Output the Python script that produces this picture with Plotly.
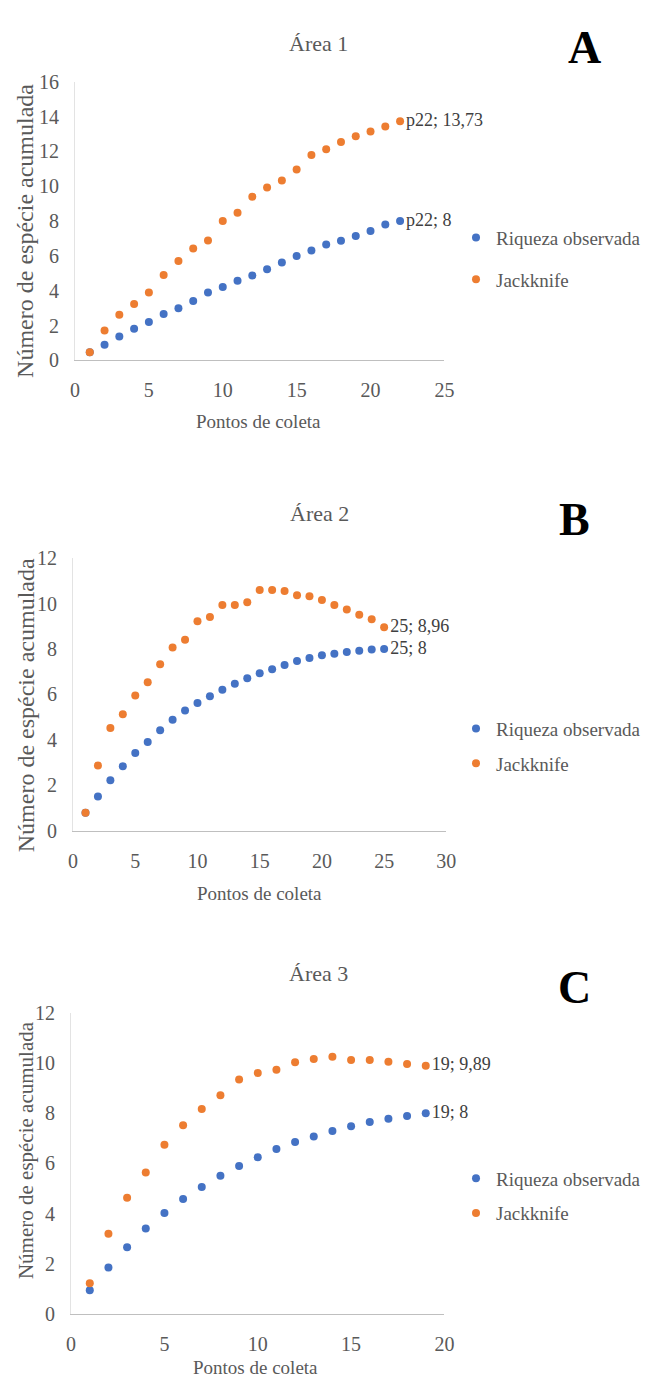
import plotly.graph_objects as go

# ---------------- data ----------------
pontos_a = list(range(1, 23))
riqueza_a = [0.47, 0.90, 1.37, 1.82, 2.21, 2.66, 3.00, 3.41, 3.90, 4.21, 4.57,
             4.87, 5.24, 5.62, 5.99, 6.31, 6.65, 6.87, 7.15, 7.43, 7.81, 8.00]
jack_a = [0.47, 1.72, 2.62, 3.24, 3.90, 4.90, 5.71, 6.42, 6.89, 8.00, 8.48,
          9.40, 9.93, 10.34, 10.96, 11.80, 12.13, 12.55, 12.87, 13.15, 13.43, 13.73]
label_a = ["p22; 13,73", "p22; 8"]

pontos_b = list(range(1, 26))
riqueza_b = [0.79, 1.51, 2.23, 2.84, 3.42, 3.91, 4.43, 4.89, 5.29, 5.63, 5.92,
             6.21, 6.47, 6.72, 6.93, 7.11, 7.30, 7.47, 7.61, 7.73, 7.79, 7.87,
             7.93, 7.98, 8.00]
jack_b = [0.79, 2.87, 4.53, 5.13, 5.96, 6.54, 7.33, 8.07, 8.41, 9.22, 9.41,
          9.94, 9.94, 10.06, 10.60, 10.60, 10.56, 10.37, 10.32, 10.16, 9.94,
          9.74, 9.51, 9.31, 8.96]
label_b = ["25; 8,96", "25; 8"]

pontos_c = list(range(1, 20))
riqueza_c = [0.95, 1.85, 2.66, 3.41, 4.02, 4.58, 5.06, 5.51, 5.90, 6.25, 6.58,
             6.85, 7.07, 7.29, 7.48, 7.65, 7.78, 7.89, 8.00]
jack_c = [1.23, 3.20, 4.63, 5.64, 6.74, 7.52, 8.17, 8.72, 9.34, 9.60, 9.73,
          10.03, 10.16, 10.25, 10.12, 10.12, 10.05, 9.96, 9.89]
label_c = ["19; 9,89", "19; 8"]

titles = ["Área 1", "Área 2", "Área 3"]
letters = ["A", "B", "C"]
series_names = ["Riqueza observada", "Jackknife"]
x_title = "Pontos de coleta"
y_title = "Número de espécie acumulada"
x_ranges = [[0, 25], [0, 30], [0, 20]]
y_ranges = [[0, 16], [0, 12], [0, 12]]

# ---------------- style / layout ----------------
FW, FH = 646, 1388
FONT = "Liberation Serif, Times New Roman, serif"
BLUE = "#4472C4"
ORANGE = "#ED7D31"
TICKC = "#595959"


def px(xs):   # page x -> paper
    return xs / FW


def py(ys):   # page y -> paper
    return 1 - ys / FH


# pixel boxes of each plot area: (x_left, x_right, y_top, y_bottom)
panels_px = [(72, 452, 72, 355), (70, 454, 556, 833), (68, 452, 1018, 1324)]
title_pos = [(322, 33), (324, 511), (322, 978)]
letter_pos = [(596, 37), (586, 517), (586, 992)]
legend_top = [211, 710, 1167]
legend_gap = [14, 7, 7]
xtitle_pos = [(261, 417), (262, 897), (258, 1378)]
ytitle_pos = [(21, 223), (21, 705), (21, 1157)]
ytitle_size = [24, 24, 21]

fig = go.Figure()
datasets = [(pontos_a, riqueza_a, jack_a, label_a),
            (pontos_b, riqueza_b, jack_b, label_b),
            (pontos_c, riqueza_c, jack_c, label_c)]

annotations = []
layout_upd = {}
for i, (xs, rq, jk, lab) in enumerate(datasets):
    n = i + 1
    xa = "x" if n == 1 else f"x{n}"
    ya = "y" if n == 1 else f"y{n}"
    leg = "legend" if n == 1 else f"legend{n}"
    txt_r = [""] * (len(xs) - 1) + [lab[1]]
    txt_j = [""] * (len(xs) - 1) + [lab[0]]
    for name, ys, col, txt, grp in [(series_names[0], rq, BLUE, txt_r, "r"),
                                    (series_names[1], jk, ORANGE, txt_j, "j")]:
        fig.add_trace(go.Scatter(
            x=xs, y=ys, mode="markers+text", name=name,
            marker=dict(color=col, size=8), text=txt, textposition="middle right",
            textfont=dict(family=FONT, size=18, color="#404040"),
            xaxis=xa, yaxis=ya, legend=leg, legendgroup=f"{grp}{n}",
            cliponaxis=False, hoverinfo="x+y"))

    x0, x1, yt, yb = panels_px[i]
    xkey = "xaxis" if n == 1 else f"xaxis{n}"
    ykey = "yaxis" if n == 1 else f"yaxis{n}"
    layout_upd[xkey] = dict(
        domain=[px(x0), px(x1)], anchor=ya, range=x_ranges[i], dtick=5,
        showgrid=False, zeroline=False, showline=True, linecolor="#BFBFBF",
        linewidth=1, ticks="", ticklabelstandoff=12,
        tickfont=dict(family=FONT, size=20, color=TICKC), fixedrange=True)
    layout_upd[ykey] = dict(
        domain=[py(yb), py(yt)], anchor=xa, range=y_ranges[i], dtick=2,
        showgrid=False, zeroline=False, showline=True, linecolor="#E3E3E3",
        linewidth=1, ticks="", ticklabelstandoff=11,
        tickfont=dict(family=FONT, size=20, color=TICKC), fixedrange=True)
    layout_upd[leg] = dict(
        x=px(464), y=py(legend_top[i]), xanchor="left", yanchor="top",
        font=dict(family=FONT, size=19, color=TICKC), bgcolor="rgba(0,0,0,0)",
        tracegroupgap=legend_gap[i], itemsizing="trace", itemwidth=30)

    annotations += [
        dict(text=titles[i], x=px(title_pos[i][0]), y=py(title_pos[i][1]),
             font=dict(family=FONT, size=22, color=TICKC)),
        dict(text=f"<b>{letters[i]}</b>", x=px(letter_pos[i][0]), y=py(letter_pos[i][1]),
             font=dict(family=FONT, size=46, color="black")),
        dict(text=x_title, x=px(xtitle_pos[i][0]), y=py(xtitle_pos[i][1]),
             font=dict(family=FONT, size=19, color=TICKC)),
        dict(text=y_title, x=px(ytitle_pos[i][0]), y=py(ytitle_pos[i][1]), textangle=-90,
             font=dict(family=FONT, size=ytitle_size[i], color=TICKC)),
    ]

for a in annotations:
    a.update(xref="paper", yref="paper", showarrow=False,
             xanchor="center", yanchor="middle")

fig.update_layout(
    width=FW, height=FH, margin=dict(l=0, r=0, t=0, b=0),
    paper_bgcolor="white", plot_bgcolor="white",
    showlegend=True, annotations=annotations, **layout_upd)

# let the figure occupy the page exactly (no default body margin / scrollbars)
fig.write_html("out.html", config={"displayModeBar": False},
               post_script="document.body.style.margin='0';"
                           "document.body.style.overflow='hidden';")
